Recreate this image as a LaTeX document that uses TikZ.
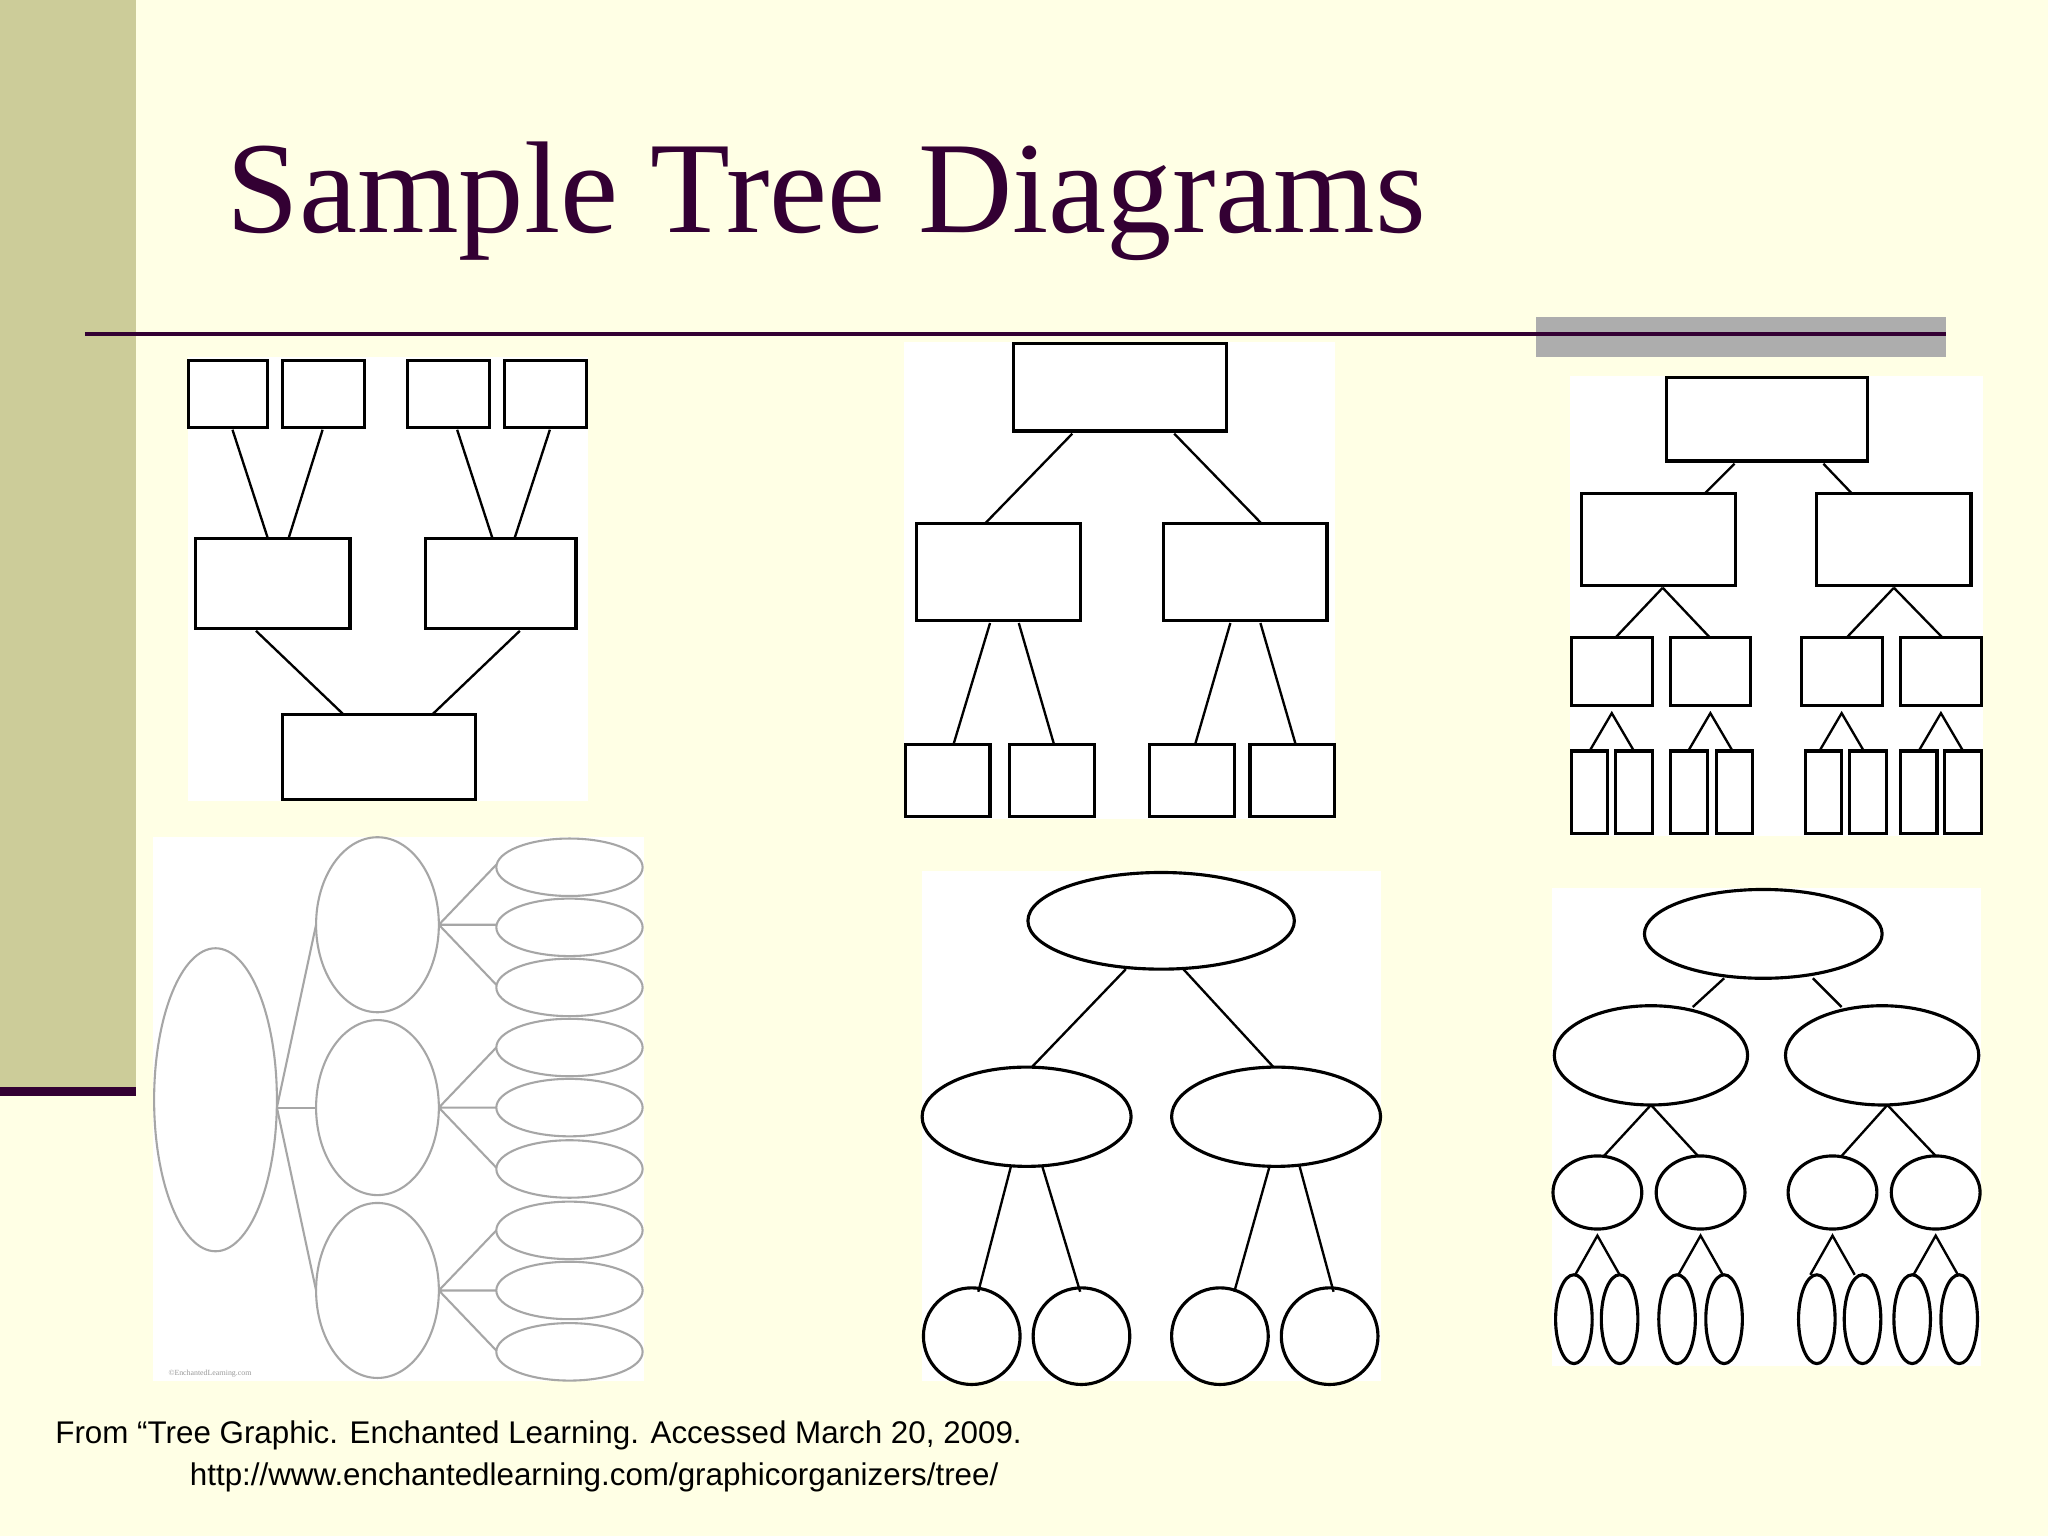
\documentclass[tikz,border=0pt]{standalone}
\usepackage{fontspec}
\setmainfont{Liberation Serif}
\newfontfamily\foot{Liberation Sans}
\definecolor{bg}{HTML}{FFFFE5}
\definecolor{olive}{HTML}{CCCC99}
\definecolor{plum}{HTML}{330033}
\definecolor{bar}{HTML}{ADADAD}
\begin{document}
\begin{tikzpicture}[x=0.5pt,y=-0.5pt,
  bx/.style={draw=black,line width=1.2pt},
  ln/.style={draw=black,line width=0.9pt},
  gl/.style={draw=black!35,line width=0.8pt},
  panel/.style={fill=white,draw=none}]
\fill[bg] (0,0) rectangle (1568,1176);
\useasboundingbox (0,0) rectangle (1568,1176);
\fill[olive] (0,0) rectangle (104,835);
\fill[plum] (0,832) rectangle (104,839);
\fill[bar] (1176,243) rectangle (1490,273);
\draw[plum,line width=1.6pt] (65,256) -- (1490,256);
\node[anchor=base west,text=plum,font=\fontsize{50}{60}\selectfont,inner sep=0] (title) at (173,178) {Sample Tree Diagrams};
\node[anchor=base west,font=\foot\fontsize{12}{14}\selectfont,inner sep=0] (f1) at (42,1105) {From “Tree Graphic.  Enchanted Learning.  Accessed March 20, 2009.};
\node[anchor=base west,font=\foot\fontsize{12}{14}\selectfont,inner sep=0] (f2) at (145,1137) {http://www.enchantedlearning.com/graphicorganizers/tree/};
% panel 1
\fill[panel] (144,273) rectangle (450,613);
\foreach \a/\b in {144/205,216/279,312/375,386/449} \draw[bx] (\a,276) rectangle (\b,327);
\draw[bx] (150,412) rectangle (268,481);
\draw[bx] (326,412) rectangle (441,481);
\draw[bx] (216,547) rectangle (364,612);
\draw[ln] (178,329)--(205,412) (247,329)--(221,412) (350,329)--(377,412) (421,329)--(394,412)
 (196,483)--(263,547) (398,483)--(331,547);
% panel 2
\fill[panel] (692,262) rectangle (1022,627);
\draw[bx] (776,263) rectangle (939,330);
\draw[bx] (702,401) rectangle (827,475);
\draw[bx] (891,401) rectangle (1016,475);
\foreach \a/\b in {693/758,773/838,880/945,957/1022} \draw[bx] (\a,570) rectangle (\b,625);
\draw[ln] (821,332)--(754,401) (899,332)--(966,401) (758,477)--(730,570) (780,477)--(807,570)
 (942,477)--(915,570) (965,477)--(992,570);
% panel 3
\fill[panel] (1202,288) rectangle (1518,640);
\draw[bx] (1276,289) rectangle (1430,353);
\draw[bx] (1211,378) rectangle (1329,448);
\draw[bx] (1391,378) rectangle (1509,448);
\foreach \a/\b in {1203/1265,1279/1340,1379/1441,1455/1517} {
  \draw[bx] (\a,488) rectangle (\b,540);
  \draw[ln] ({(\a+\b)/2-17},575)--({(\a+\b)/2},546)--({(\a+\b)/2+17},575);}
\foreach \a in {1203,1237,1279,1314,1382,1416,1455,1489} \draw[bx] (\a,575) rectangle (\a+28,638);
\draw[ln] (1328,355)--(1305,378) (1396,355)--(1418,378) (1273,450)--(1237,488) (1273,450)--(1309,488)
 (1450,450)--(1414,488) (1450,450)--(1487,488);
% panel 4
\fill[panel] (117,641) rectangle (493,1057);
\draw[gl] (165,842) ellipse [x radius=47,y radius=116];
\foreach \y in {708,848,988} {\draw[gl] (289,\y) ellipse [x radius=47,y radius=67];
  \draw[gl] (212,848)--(242,\y);
  \draw[gl] (336,\y)--(380,\y-46) (336,\y)--(380,\y) (336,\y)--(380,\y+46);}
\foreach \y in {664,710,756,802,848,895,942,988,1035} \draw[gl] (436,\y) ellipse [x radius=56,y radius=22];
\node[font=\fontsize{3}{3}\selectfont,text=black!40,anchor=west] (cr) at (122,1052) {©EnchantedLearning.com};
% panel 5
\fill[panel] (706,667) rectangle (1057,1057);
\draw[bx] (889,705) ellipse [x radius=102,y radius=37];
\draw[bx] (786,855) ellipse [x radius=80,y radius=38];
\draw[bx] (977,855) ellipse [x radius=80,y radius=38];
\foreach \x in {744,828,934,1018} \draw[bx] (\x,1023) circle (37);
\draw[ln] (862,742)--(790,817) (906,742)--(975,817) (774,893)--(749,989) (798,893)--(827,989)
 (972,893)--(945,989) (995,893)--(1021,989);
% panel 6
\fill[panel] (1188,680) rectangle (1517,1046);
\draw[bx] (1350,715) ellipse [x radius=91,y radius=34];
\draw[bx] (1264,808) ellipse [x radius=74,y radius=38];
\draw[bx] (1441,808) ellipse [x radius=74,y radius=38];
\foreach \x in {1223,1302,1403,1482} {\draw[bx] (\x,913) ellipse [x radius=34,y radius=28];
  \draw[ln] (\x-17,976)--(\x,946)--(\x+17,976);}
\foreach \x in {1205,1240,1284,1320,1391,1426,1464,1500} \draw[bx] (\x,1010) ellipse [x radius=14,y radius=34];
\draw[ln] (1320,749)--(1296,771) (1388,749)--(1410,771) (1264,846)--(1228,885) (1264,846)--(1300,885)
 (1445,846)--(1410,885) (1445,846)--(1482,885);
\end{tikzpicture}
\end{document}
